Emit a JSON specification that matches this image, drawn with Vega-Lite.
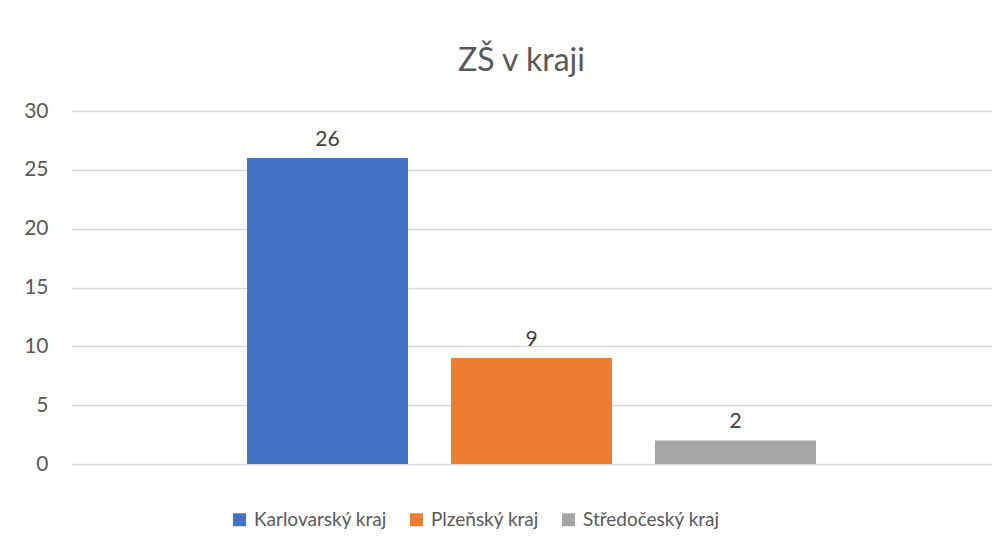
{
  "$schema": "https://vega.github.io/schema/vega-lite/v6.json",
  "autosize": "none",
  "width": 921,
  "height": 353,
  "padding": {"left": 71, "top": 111, "right": 12, "bottom": 85},
  "background": "white",
  "title": {"text": "ZŠ v kraji", "font": "Lato", "fontSize": 32, "fontWeight": "normal", "color": "#595959", "anchor": "middle", "dx": -10, "dy": 42, "offset": 39, "baseline": "alphabetic"},
  "data": {"values": [
    {"kraj": "Karlovarský kraj", "pocet": 26},
    {"kraj": "Plzeňský kraj", "pocet": 9},
    {"kraj": "Středočeský kraj", "pocet": 2}
  ]},
  "encoding": {
    "x": {"field": "kraj", "type": "nominal", "sort": null, "scale": {"paddingInner": 0.211, "paddingOuter": 0.863}, "axis": null},
    "y": {"field": "pocet", "type": "quantitative", "scale": {"domain": [0, 30]},
      "axis": {"values": [0, 5, 10, 15, 20, 25, 30], "title": null, "domain": false, "ticks": false, "labelPadding": 23, "labelFont": "Lato", "labelFontSize": 21, "labelColor": "#595959", "gridColor": "#D9D9D9", "gridWidth": 1.3}}
  },
  "layer": [
    {"mark": {"type": "bar"},
     "encoding": {"color": {"field": "kraj", "type": "nominal", "sort": null,
       "scale": {"range": ["#4472C4", "#ED7D31", "#A5A5A5"]},
       "legend": {"title": null, "orient": "none", "legendX": 159, "legendY": 399, "direction": "horizontal", "symbolType": "square", "symbolSize": 169, "symbolStrokeWidth": 0, "labelFont": "Lato", "labelFontSize": 19, "labelColor": "#595959", "labelOffset": 5, "columnPadding": 20, "padding": 0}}}},
    {"mark": {"type": "text", "baseline": "alphabetic", "dy": -12, "font": "Lato", "fontSize": 21, "color": "#404040"},
     "encoding": {"text": {"field": "pocet", "type": "quantitative"}}}
  ],
  "config": {"view": {"stroke": null}}
}
